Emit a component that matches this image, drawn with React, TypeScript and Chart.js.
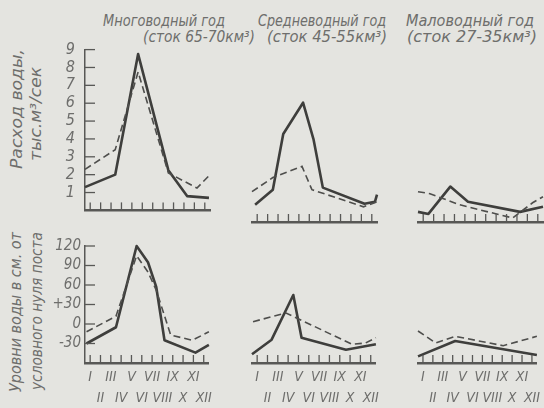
import React, { useEffect, useRef } from "react";
import { Chart, registerables } from "chart.js";

Chart.register(...registerables);

// ---------- data ----------
const months = ["I", "II", "III", "IV", "V", "VI", "VII", "VIII", "IX", "X", "XI", "XII"];

const flowTicks = [1, 2, 3, 4, 5, 6, 7, 8, 9];
const flowTickLabels = ["1", "2", "3", "4", "5", "6", "7", "8", "9"];
const levelTicks = [-30, 0, 30, 60, 90, 120];
const levelTickLabels = ["-30", "0", "+30", "60", "90", "120"];

const columnTitles = ["Многоводный год", "Средневодный год", "Маловодный год"];
const columnSubtitles = ["(сток 65-70км³)", "(сток 45-55км³)", "(сток 27-35км³)"];
const flowAxisTitle = ["Расход воды,", "тыс.м³/сек"];
const levelAxisTitle = ["Уровни воды в см. от", "условного нуля поста"];

// x = time of year in months (0 = start of January, 12 = end of December)
// Discharge, thousand m³/s
const highFlowSolidX = [0, 2.9, 5.1, 8.0, 9.8, 11.9];
const highFlowSolidY = [1.3, 2.0, 8.75, 2.25, 0.8, 0.7];
const highFlowDashX = [0, 2.9, 5.1, 8.0, 10.75, 12];
const highFlowDashY = [2.3, 3.4, 7.75, 2.1, 1.25, 2.0];

const midFlowSolidX = [0.3, 2.0, 3.0, 4.9, 5.9, 6.8, 10.8, 11.8, 12];
const midFlowSolidY = [0.85, 1.6, 4.35, 5.9, 4.1, 1.7, 0.9, 1.0, 1.35];
const midFlowDashX = [0, 2.0, 4.8, 5.75, 10.7, 12];
const midFlowDashY = [1.5, 2.2, 2.75, 1.6, 0.75, 1.0];

const lowFlowSolidX = [0, 1.0, 3.1, 4.8, 9.8, 12];
const lowFlowSolidY = [0.5, 0.4, 1.75, 1.0, 0.5, 0.75];
const lowFlowDashX = [0, 1.15, 4.0, 7.9, 9.1, 11, 12];
const lowFlowDashY = [1.5, 1.4, 0.85, 0.35, 0.2, 0.95, 1.25];

// Water level, cm relative to gauge zero
const highLevelSolidX = [0.15, 3.0, 5.0, 6.1, 6.9, 7.7, 10.7, 12];
const highLevelSolidY = [-30, -5, 120, 95, 57, -25, -44, -32];
const highLevelDashX = [0.15, 3.0, 5.0, 6.1, 6.9, 8.3, 10.4, 12];
const highLevelDashY = [-12, 12, 105, 80, 52, -17, -25, -12];

const midLevelSolidX = [0, 1.9, 4.0, 4.8, 9.1, 12];
const midLevelSolidY = [-47, -25, 42, -22, -40, -32];
const midLevelDashX = [0.1, 3.3, 9.7, 11, 12];
const midLevelDashY = [2, 15, -32, -30, -22];

const lowLevelSolidX = [0, 3.75, 12];
const lowLevelSolidY = [-50, -27, -48];
const lowLevelDashX = [0, 1.8, 3.75, 8.6, 12];
const lowLevelDashY = [-12, -30, -20, -34, -20];

// ---------- style ----------
const BG = "#e4e4e0";
const TEXT = "#6e6e6c";
const AXIS = "#585856";
const SOLID = "#3e3e3c";
const DASH = "#4e4e4c";
const FONT = "'Liberation Sans Narrow','DejaVu Sans Condensed','Arial Narrow',sans-serif";
const ROMAN_FONT = "'DejaVu Sans Condensed','Liberation Sans Narrow',sans-serif";

const inwardTicks = {
  id: "inwardTicks",
  afterDatasetsDraw(chart: any) {
    const { ctx, chartArea, scales } = chart;
    ctx.save();
    ctx.strokeStyle = AXIS;
    ctx.lineWidth = 1.3;
    const xs = scales.x;
    xs.ticks.forEach((t: any) => {
      const px = xs.getPixelForValue(t.value);
      ctx.beginPath();
      ctx.moveTo(px, chartArea.bottom);
      ctx.lineTo(px, chartArea.bottom - 8);
      ctx.stroke();
    });
    const ys = scales.y;
    if (ys.options.display) {
      ys.ticks.forEach((t: any) => {
        const py = ys.getPixelForValue(t.value);
        ctx.beginPath();
        ctx.moveTo(chartArea.left, py);
        ctx.lineTo(chartArea.left + 10, py);
        ctx.stroke();
      });
    }
    ctx.restore();
  },
};

type Series = { xs: number[]; ys: number[] };
type YAxisSpec = { ticks: number[]; labels: string[]; width: number; pad: number; size: number };
type PanelProps = {
  left: number;
  top: number;
  width: number;
  height: number;
  padding: { left: number; right: number; top: number; bottom: number };
  solid: Series;
  dashed: Series;
  yMin: number;
  yMax: number;
  yAxis?: YAxisSpec;
  xLabels: boolean;
  xHeight: number;
};

function toPoints(s: Series) {
  return s.xs.map((x, i) => ({ x, y: s.ys[i] }));
}

function Panel(p: PanelProps) {
  const ref = useRef<HTMLCanvasElement>(null);
  useEffect(() => {
    const chart = new Chart(ref.current as HTMLCanvasElement, {
      type: "line",
      data: {
        datasets: [
          {
            data: toPoints(p.dashed),
            borderColor: DASH,
            borderWidth: 1.6,
            borderDash: [7, 4],
            pointRadius: 0,
            tension: 0,
            fill: false,
            clip: false,
          } as any,
          {
            data: toPoints(p.solid),
            borderColor: SOLID,
            borderWidth: 2.6,
            pointRadius: 0,
            tension: 0,
            fill: false,
            clip: false,
            borderJoinStyle: "round",
          } as any,
        ],
      },
      options: {
        animation: false,
        responsive: false,
        maintainAspectRatio: false,
        events: [],
        layout: { padding: p.padding },
        plugins: { legend: { display: false }, tooltip: { enabled: false }, title: { display: false } },
        scales: {
          x: {
            type: "linear",
            min: 0,
            max: 12,
            afterBuildTicks: (s: any) => {
              s.ticks = months.map((_, i) => ({ value: i + 0.5 }));
            },
            afterFit: (s: any) => {
              s.height = p.xHeight;
            },
            grid: { display: false, drawTicks: false },
            border: { display: true, color: AXIS, width: 2.4 },
            ticks: {
              display: p.xLabels,
              autoSkip: false,
              maxRotation: 0,
              minRotation: 0,
              padding: 4,
              color: TEXT,
              font: { family: ROMAN_FONT, size: 14, style: "italic", lineHeight: 1.5 },
              callback: (_v: any, i: number) => (i % 2 === 0 ? [months[i], ""] : ["", months[i]]),
            },
          },
          y: {
            type: "linear",
            display: !!p.yAxis,
            min: p.yMin,
            max: p.yMax,
            afterBuildTicks: (s: any) => {
              if (p.yAxis) s.ticks = p.yAxis.ticks.map((v) => ({ value: v }));
            },
            afterFit: (s: any) => {
              if (p.yAxis) s.width = p.yAxis.width;
            },
            grid: { display: false, drawTicks: false },
            border: { display: true, color: AXIS, width: 1.5 },
            ticks: {
              padding: p.yAxis ? p.yAxis.pad : 0,
              color: TEXT,
              font: { family: FONT, size: p.yAxis ? p.yAxis.size : 12, style: "italic" },
              callback: (_v: any, i: number) => (p.yAxis ? p.yAxis.labels[i] : ""),
            },
          },
        },
      },
      plugins: [inwardTicks],
    } as any);
    return () => chart.destroy();
  }, []);
  return (
    <canvas
      ref={ref}
      width={p.width}
      height={p.height}
      style={{ position: "absolute", left: p.left, top: p.top, width: p.width, height: p.height }}
    />
  );
}

let measureCtx: CanvasRenderingContext2D | null = null;
function measure(text: string, font: string) {
  if (!measureCtx) measureCtx = document.createElement("canvas").getContext("2d");
  measureCtx!.font = font;
  return measureCtx!.measureText(text).width;
}

function FitText(props: { text: string; cx: number; cy: number; len: number; size: number; rotate?: boolean }) {
  const font = `italic ${props.size}px ${FONT}`;
  const natural = measure(props.text, font) || props.len;
  const k = props.len / natural;
  const rot = props.rotate ? " rotate(-90deg)" : "";
  return (
    <div
      style={{
        position: "absolute",
        left: props.cx,
        top: props.cy,
        transform: `translate(-50%, -50%)${rot} scaleX(${k})`,
        whiteSpace: "nowrap",
        font,
        color: TEXT,
        lineHeight: 1,
      }}
    >
      {props.text}
    </div>
  );
}

const TOP_ROW = { top: 30, height: 200 };
const BOTTOM_ROW = { top: 233, height: 175 };

export default function App() {
  const flowAxis: YAxisSpec = { ticks: flowTicks, labels: flowTickLabels, width: 65, pad: 10, size: 16 };
  const levelAxis: YAxisSpec = { ticks: levelTicks, labels: levelTickLabels, width: 65, pad: 4, size: 15 };
  const topPad = (l: number, r: number) => ({ left: l, right: r, top: 10, bottom: 4 });
  const botPad = (l: number, r: number) => ({ left: l, right: r, top: 10, bottom: 0 });
  return (
    <div
      style={{
        position: "absolute",
        left: 0,
        top: 0,
        width: 544,
        height: 408,
        background: BG,
        overflow: "hidden",
      }}
    >
      <FitText text={columnTitles[0]} cx={164} cy={21} len={122} size={15} />
      <FitText text={columnSubtitles[0]} cx={199} cy={37} len={112} size={15} />
      <FitText text={columnTitles[1]} cx={322} cy={21} len={128} size={15} />
      <FitText text={columnSubtitles[1]} cx={327} cy={37} len={120} size={15} />
      <FitText text={columnTitles[2]} cx={470} cy={21} len={128} size={15} />
      <FitText text={columnSubtitles[2]} cx={472} cy={37} len={130} size={15} />

      <FitText text={flowAxisTitle[0]} cx={17} cy={109} len={120} size={16} rotate />
      <FitText text={flowAxisTitle[1]} cx={36} cy={114} len={94} size={16} rotate />
      <FitText text={levelAxisTitle[0]} cx={16} cy={312} len={160} size={16} rotate />
      <FitText text={levelAxisTitle[1]} cx={37} cy={311} len={158} size={16} rotate />

      <Panel left={20} width={196} {...TOP_ROW} padding={topPad(0, 6)} yMin={0} yMax={9}
        solid={{ xs: highFlowSolidX, ys: highFlowSolidY }} dashed={{ xs: highFlowDashX, ys: highFlowDashY }}
        yAxis={flowAxis} xLabels={false} xHeight={4} />
      <Panel left={246} width={137} {...TOP_ROW} padding={topPad(6, 6)} yMin={0} yMax={9}
        solid={{ xs: midFlowSolidX, ys: midFlowSolidY }} dashed={{ xs: midFlowDashX, ys: midFlowDashY }}
        xLabels={false} xHeight={4} />
      <Panel left={412} width={132} {...TOP_ROW} padding={topPad(6, 1)} yMin={0} yMax={9}
        solid={{ xs: lowFlowSolidX, ys: lowFlowSolidY }} dashed={{ xs: lowFlowDashX, ys: lowFlowDashY }}
        xLabels={false} xHeight={4} />

      <Panel left={20} width={196} {...BOTTOM_ROW} padding={botPad(0, 6)} yMin={-60} yMax={120}
        solid={{ xs: highLevelSolidX, ys: highLevelSolidY }} dashed={{ xs: highLevelDashX, ys: highLevelDashY }}
        yAxis={levelAxis} xLabels={true} xHeight={45} />
      <Panel left={246} width={137} {...BOTTOM_ROW} padding={botPad(6, 6)} yMin={-60} yMax={120}
        solid={{ xs: midLevelSolidX, ys: midLevelSolidY }} dashed={{ xs: midLevelDashX, ys: midLevelDashY }}
        xLabels={true} xHeight={45} />
      <Panel left={412} width={132} {...BOTTOM_ROW} padding={botPad(6, 1)} yMin={-60} yMax={120}
        solid={{ xs: lowLevelSolidX, ys: lowLevelSolidY }} dashed={{ xs: lowLevelDashX, ys: lowLevelDashY }}
        xLabels={true} xHeight={45} />
    </div>
  );
}
